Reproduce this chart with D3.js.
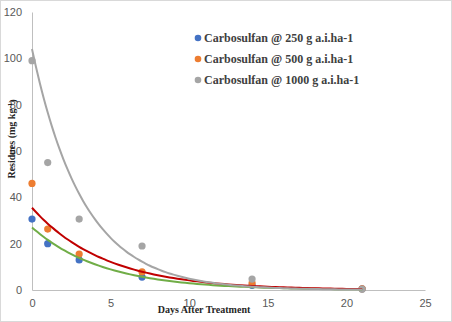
<!DOCTYPE html>
<html>
<head>
  <title>Carbosulfan residues</title>
  <script src="https://d3js.org/d3.v7.min.js"></script>
  <style>
    body { margin: 0; background: #fff; }
  </style>
</head>
<body>

<div id="chart"></div>

<script>
// Sampling days
const days = [0, 1, 3, 7, 14, 21];

// Residues (mg kg-1) per dose
const dose250 = [30.6, 20, 13, 5.6, 2, 0.5];
const dose500 = [46, 26.3, 15.5, 7.8, 3, 0.5];
const dose1000 = [99, 55, 30.6, 19, 4.7, 0.3];

const seriesNames = [
  "Carbosulfan @ 250 g a.i.ha-1",
  "Carbosulfan @ 500 g a.i.ha-1",
  "Carbosulfan @ 1000 g a.i.ha-1"
];
const seriesColors = ["#4472C4", "#ED7D31", "#A5A5A5"];

// Exponential trendlines y = a * exp(-k * t)
const trendA = [27, 35.5, 104];
const trendK = [0.222, 0.2146, 0.306];
const trendColors = ["#70AD47", "#C00000", "#A5A5A5"];

const xTicks = [0, 5, 10, 15, 20, 25];
const yTicks = [0, 20, 40, 60, 80, 100, 120];

const W = 452, H = 322;
const margin = { top: 12, right: 27, bottom: 32, left: 32 };
const width = W - margin.left - margin.right;
const height = H - margin.top - margin.bottom;

const svg = d3.select("#chart")
  .append("svg")
  .attr("width", W)
  .attr("height", H);

// outer chart border
svg.append("rect")
  .attr("x", 0.5).attr("y", 0.5)
  .attr("width", W - 1).attr("height", H - 1)
  .attr("fill", "#fff")
  .attr("stroke", "#d9d9d9");

const g = svg.append("g")
  .attr("transform", `translate(${margin.left},${margin.top})`);

const x = d3.scaleLinear().domain([0, 25]).range([0, width]);
const y = d3.scaleLinear().domain([0, 120]).range([height, 0]);

// Axes
const xAxis = g.append("g")
  .attr("transform", `translate(0,${height})`)
  .call(d3.axisBottom(x).tickValues(xTicks).tickSize(0).tickPadding(9));

const yAxis = g.append("g")
  .call(d3.axisLeft(y).tickValues(yTicks).tickSize(0).tickPadding(10));

[xAxis, yAxis].forEach(ax => {
  ax.select(".domain").attr("stroke", "#bfbfbf");
  ax.selectAll("text")
    .attr("fill", "#595959")
    .style("font-family", "'Liberation Sans', Arial, sans-serif")
    .style("font-size", "11px");
});

// Data points
const series = [dose250, dose500, dose1000];
series.forEach((vals, i) => {
  g.selectAll(".pt" + i)
    .data(vals)
    .enter()
    .append("circle")
    .attr("cx", (d, j) => x(days[j]))
    .attr("cy", d => y(d))
    .attr("r", 3.6)
    .attr("fill", seriesColors[i]);
});

// Trendlines over the sampled range
const line = d3.line()
  .x(d => x(d[0]))
  .y(d => y(d[1]))
  .curve(d3.curveMonotoneX);

const tSamples = d3.range(0, 21.01, 0.25);
trendA.forEach((a, i) => {
  g.append("path")
    .datum(tSamples.map(t => [t, a * Math.exp(-trendK[i] * t)]))
    .attr("fill", "none")
    .attr("stroke", trendColors[i])
    .attr("stroke-width", 2)
    .attr("d", line);
});

// Legend
const legend = svg.append("g").attr("transform", "translate(198,38)");
seriesNames.forEach((name, i) => {
  const row = legend.append("g").attr("transform", `translate(0,${i * 21})`);
  row.append("circle")
    .attr("r", 3.3)
    .attr("fill", seriesColors[i]);
  row.append("text")
    .attr("x", 6)
    .attr("dy", "0.35em")
    .attr("fill", "#404040")
    .style("font-family", "'Liberation Serif', 'Times New Roman', serif")
    .style("font-weight", "bold")
    .style("font-size", "12px")
    .text(name);
});

// Axis titles
svg.append("text")
  .attr("x", 204)
  .attr("y", 313)
  .attr("text-anchor", "middle")
  .attr("fill", "#262626")
  .style("font-family", "'Liberation Serif', 'Times New Roman', serif")
  .style("font-weight", "bold")
  .style("font-size", "10px")
  .text("Days After Treatment");

const yTitle = svg.append("text")
  .attr("transform", "translate(15,139) rotate(-90)")
  .attr("text-anchor", "middle")
  .attr("fill", "#262626")
  .style("font-family", "'Liberation Serif', 'Times New Roman', serif")
  .style("font-weight", "bold")
  .style("font-size", "10px");
yTitle.append("tspan").text("Residues (mg kg");
yTitle.append("tspan").attr("dy", "-0.4em").style("font-size", "7px").text("-1");
yTitle.append("tspan").attr("dy", "0.4em").text(")");
</script>

</body>
</html>
